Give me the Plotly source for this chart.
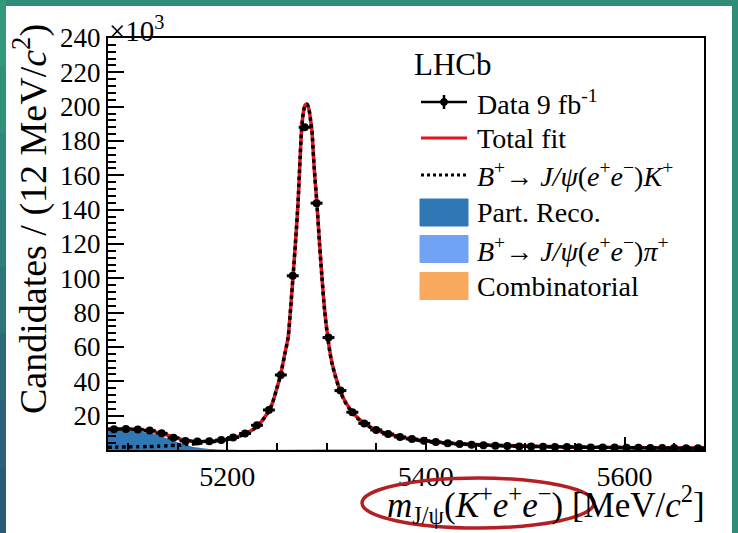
import numpy as np
import plotly.graph_objects as go

# ---------------- data (values in units of 10^3 candidates) ----------------
bin_low, bin_width, n_bins = 5080.0, 12.0, 50
data_counts = [12.1, 12.2, 12.0, 11.3, 9.7, 7.1, 5.3, 4.9, 5.1, 5.8,
               7.3, 9.6, 14.4, 23.3, 43.7, 101.5, 188.0, 143.8, 65.5, 34.6,
               22.0, 15.5, 11.7, 9.3, 7.6, 6.4, 5.4, 4.6, 4.0, 3.5,
               3.1, 2.8, 2.5, 2.3, 2.1, 2.0, 1.9, 1.8, 1.7, 1.6,
               1.5, 1.45, 1.4, 1.3, 1.25, 1.2, 1.15, 1.1, 1.05, 1.0]

fit_x = [5080, 5090, 5100, 5110, 5120, 5130, 5140, 5150, 5160, 5170, 5180, 5190,
         5200, 5210, 5220, 5230, 5240, 5245, 5249, 5253.7, 5258, 5261.3, 5263.5,
         5266.3, 5269, 5271.3, 5273, 5274.7, 5276.5, 5278.5, 5280.5, 5282.5, 5284,
         5285.3, 5287.5, 5290.3, 5293, 5295.3, 5298, 5301.3, 5305, 5308.7, 5313.7,
         5320, 5330, 5340, 5350, 5360, 5380, 5400, 5425, 5450, 5500, 5550, 5600,
         5650, 5680]
fit_total = [12.3, 12.4, 12.3, 12.0, 11.3, 10.2, 8.6, 6.8, 5.5, 5.0, 5.0, 5.4,
             6.3, 7.7, 9.9, 13.8, 21.0, 26.5, 34.0, 43.7, 56.0, 65.5, 80.0,
             101.5, 123.0, 143.8, 165.0, 185.0, 196.0, 201.0, 201.5, 198.0, 192.0,
             186.0, 165.0, 143.8, 120.0, 101.5, 82.0, 65.5, 52.0, 43.7, 34.6,
             27.0, 19.5, 14.8, 11.8, 9.7, 7.0, 5.3, 4.0, 3.2, 2.3, 1.8, 1.5,
             1.2, 1.1]
fit_signal = [1.6, 1.7, 1.8, 1.9, 2.0, 2.2, 2.5, 2.8, 3.3, 3.8, 4.4, 5.1,
              6.1, 7.6, 9.8, 13.7, 20.9, 26.4, 33.9, 43.6, 55.9, 65.4, 79.9,
              101.4, 122.9, 143.7, 164.9, 184.9, 195.9, 200.9, 201.4, 197.8, 191.8,
              185.8, 164.8, 143.5, 119.7, 101.2, 81.6, 65.1, 51.6, 43.3, 34.2,
              26.6, 19.1, 14.5, 11.6, 9.5, 6.9, 5.2, 3.9, 3.1, 2.2, 1.7, 1.4,
              1.1, 1.0]

partreco_x = [5080, 5090, 5100, 5110, 5120, 5130, 5140, 5150, 5160, 5170, 5180,
              5190, 5200, 5210, 5220, 5680]
partreco_y = [11.3, 11.5, 11.3, 10.9, 10.0, 8.6, 6.7, 4.5, 2.6, 1.4, 0.7,
              0.35, 0.12, 0.04, 0.0, 0.0]

pimode_x = [5080, 5200, 5250, 5280, 5300, 5320, 5340, 5360, 5400, 5680]
pimode_y = [0.0, 0.02, 0.1, 0.3, 0.45, 0.5, 0.4, 0.25, 0.08, 0.0]

comb_x = [5080, 5680]
comb_y = [0.12, 0.06]

y_tick_vals = [20, 40, 60, 80, 100, 120, 140, 160, 180, 200, 220, 240]
x_tick_vals = [5200, 5400, 5600]

legend_labels = ["Data 9 fb<sup>-1</sup>",
                 "Total fit",
                 "<i>B</i><sup>+</sup>\u2192 <i>J/\u03c8</i>(<i>e</i><sup>+</sup><i>e</i><sup>\u2212</sup>)<i>K</i><sup>+</sup>",
                 "Part. Reco.",
                 "<i>B</i><sup>+</sup>\u2192 <i>J/\u03c8</i>(<i>e</i><sup>+</sup><i>e</i><sup>\u2212</sup>)<i>\u03c0</i><sup>+</sup>",
                 "Combinatorial"]

# ---------------- style ----------------
W, H = 738, 533
ML, MR, MT, MB = 108, 34, 38, 83
PW, PH = W - ML - MR, H - MT - MB
SERIF = "Liberation Serif"
C_PR = "#2f78b5"
C_PI = "#72a2f3"
C_COMB = "#f9aa5e"
C_FIT = "#e3141c"
C_TEAL = "#2f8c78"


def px(x):
    return (x - ML) / PW


def py(y):
    return (H - MB - y) / PH


centers = bin_low + bin_width * (np.arange(n_bins) + 0.5)
counts = np.array(data_counts)
yerr = np.sqrt(counts * 1000.0) / 1000.0

fig = go.Figure()
fig.add_trace(go.Scatter(x=comb_x, y=comb_y, mode="lines", fill="tozeroy",
                         fillcolor=C_COMB, line=dict(width=0), hoverinfo="skip"))
fig.add_trace(go.Scatter(x=pimode_x, y=pimode_y, mode="lines", fill="tozeroy",
                         fillcolor=C_PI, line=dict(width=0, shape="spline"), hoverinfo="skip"))
fig.add_trace(go.Scatter(x=partreco_x, y=partreco_y, mode="lines", fill="tozeroy",
                         fillcolor=C_PR, line=dict(width=0, shape="spline", smoothing=0.8),
                         hoverinfo="skip"))
fig.add_trace(go.Scatter(x=fit_x, y=fit_total, mode="lines",
                         line=dict(color=C_FIT, width=3.5, shape="spline", smoothing=0.7)))
fig.add_trace(go.Scatter(x=fit_x, y=fit_signal, mode="lines",
                         line=dict(color="black", width=3.5, dash="dot", shape="spline", smoothing=0.7)))
fig.add_trace(go.Scatter(x=centers, y=counts, mode="markers",
                         marker=dict(color="black", size=8),
                         error_x=dict(type="constant", value=bin_width / 2, color="black",
                                      thickness=3, width=0),
                         error_y=dict(type="data", array=yerr, color="black",
                                      thickness=3, width=0)))

shapes = []
# slide background border
shapes.append(dict(type="rect", xref="paper", yref="paper", x0=px(6), x1=px(732),
                   y0=py(533), y1=py(6), fillcolor="white", line=dict(width=0), layer="below"))
left_cols = ["#33977c", "#31907a", "#2f8879", "#2d7f79", "#2c7579", "#2b6b79", "#2a6279", "#295b78"]
for i, c in enumerate(left_cols):
    shapes.append(dict(type="rect", xref="paper", yref="paper", x0=px(0), x1=px(6),
                       y0=py(533 * (i + 1) / len(left_cols)), y1=py(533 * i / len(left_cols)),
                       fillcolor=c, line=dict(width=0), layer="below"))

# legend symbols
row_y = [102, 138, 175, 212.5, 249, 286]
lx0, lx1 = 421, 467
lxc = (lx0 + lx1) / 2
shapes.append(dict(type="line", xref="paper", yref="paper", x0=px(lx0), x1=px(lx1),
                   y0=py(row_y[0]), y1=py(row_y[0]), line=dict(color="black", width=2.5)))
shapes.append(dict(type="line", xref="paper", yref="paper", x0=px(lxc), x1=px(lxc),
                   y0=py(row_y[0] - 7), y1=py(row_y[0] + 7), line=dict(color="black", width=2.5)))
shapes.append(dict(type="circle", xref="paper", yref="paper", x0=px(lxc - 3.5), x1=px(lxc + 3.5),
                   y0=py(row_y[0] + 3.5), y1=py(row_y[0] - 3.5), fillcolor="black",
                   line=dict(color="black", width=1)))
shapes.append(dict(type="line", xref="paper", yref="paper", x0=px(lx0), x1=px(lx1),
                   y0=py(row_y[1]), y1=py(row_y[1]), line=dict(color=C_FIT, width=3)))
shapes.append(dict(type="line", xref="paper", yref="paper", x0=px(lx0), x1=px(lx1),
                   y0=py(row_y[2]), y1=py(row_y[2]), line=dict(color="black", width=3, dash="dot")))
for ry, col in zip(row_y[3:], [C_PR, C_PI, C_COMB]):
    shapes.append(dict(type="rect", xref="paper", yref="paper", x0=px(420), x1=px(468),
                       y0=py(ry + 13.5), y1=py(ry - 13.5), fillcolor=col,
                       line=dict(color=col, width=1)))

# red ellipse (slide annotation)
shapes.append(dict(type="circle", xref="paper", yref="paper", x0=px(362), x1=px(594),
                   y0=py(528), y1=py(478), line=dict(color="#b41f25", width=3.5), layer="above"))

annotations = []
for ry, lab in zip(row_y, legend_labels):
    annotations.append(dict(xref="paper", yref="paper", x=px(475), y=py(ry), text=lab,
                            showarrow=False, xanchor="left", yanchor="middle",
                            font=dict(family=SERIF, size=28, color="black")))
annotations.append(dict(xref="paper", yref="paper", x=px(412), y=py(65), text="LHCb",
                        showarrow=False, xanchor="left", yanchor="middle",
                        font=dict(family=SERIF, size=31, color="black")))
annotations.append(dict(xref="paper", yref="paper", x=px(107), y=py(49),
                        text="\u00d710<sup>3</sup>", showarrow=False, xanchor="left",
                        yanchor="bottom", font=dict(family=SERIF, size=29, color="black")))
annotations.append(dict(xref="paper", yref="paper", x=px(30), y=py(219),
                        text="Candidates / (12 MeV/<i>c</i><sup>2</sup>)", textangle=-90,
                        showarrow=False, xanchor="center", yanchor="middle",
                        font=dict(family=SERIF, size=38, color="black")))
annotations.append(dict(xref="paper", yref="paper", x=px(707), y=py(504),
                        text="<i>m</i><sub>J/\u03c8</sub>(<i>K</i><sup>+</sup><i>e</i><sup>+</sup><i>e</i><sup>\u2212</sup>) [MeV/<i>c</i><sup>2</sup>]",
                        showarrow=False, xanchor="right", yanchor="middle",
                        font=dict(family=SERIF, size=35, color="black")))

fig.update_layout(
    width=W, height=H, autosize=False,
    margin=dict(l=ML, r=MR, t=MT, b=MB, pad=0),
    paper_bgcolor=C_TEAL, plot_bgcolor="white",
    showlegend=False,
    shapes=shapes, annotations=annotations,
    xaxis=dict(range=[5080, 5680], tickmode="array", tickvals=x_tick_vals,
               ticktext=[str(v) for v in x_tick_vals],
               ticks="inside", ticklen=13, tickwidth=2, tickcolor="black",
               minor=dict(tick0=5000, dtick=50, ticks="inside", ticklen=7, tickwidth=2,
                          tickcolor="black"),
               showline=True, linecolor="black", linewidth=2, mirror=True,
               showgrid=False, zeroline=False, automargin=False,
               tickfont=dict(family=SERIF, size=28, color="black")),
    yaxis=dict(range=[0, 240], tickmode="array", tickvals=y_tick_vals,
               ticktext=[str(v) for v in y_tick_vals],
               ticks="inside", ticklen=16, tickwidth=2, tickcolor="black",
               minor=dict(tick0=0, dtick=4, ticks="inside", ticklen=8, tickwidth=2,
                          tickcolor="black"),
               showline=True, linecolor="black", linewidth=2, mirror=True,
               showgrid=False, zeroline=False, automargin=False,
               tickfont=dict(family=SERIF, size=27, color="black")),
)

fig.write_html("out.html")
